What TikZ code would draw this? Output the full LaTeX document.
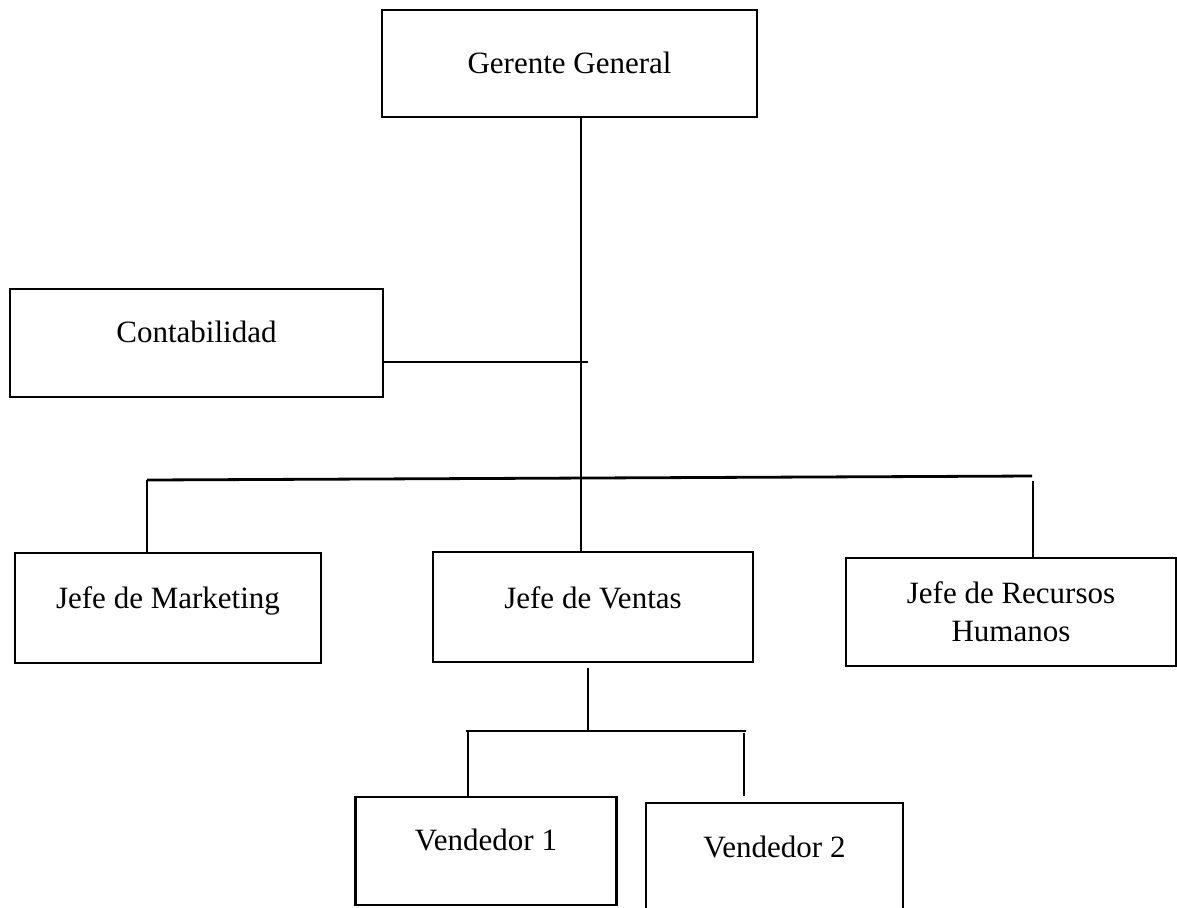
\documentclass[tikz,border=0pt]{standalone}
\usepackage{fontspec}
\setmainfont{Liberation Serif}
\tikzset{
  caja/.style={draw,line width=1.4pt,inner sep=0pt,font=\fontsize{15.5}{19}\selectfont},
  renglon/.style={text height=11pt,text depth=#1},
  renglon/.default=0.8pt,
  linea/.style={line width=1.4pt}
}
\begin{document}
\begin{tikzpicture}[x=0.5pt,y=-0.5pt]
\clip (0,0) rectangle (1177,907);
% cajas
\node[caja,renglon,minimum width=187.5pt,minimum height=53.5pt] (gerente) at (569.5,63.5) {Gerente General};
\node[caja,renglon=11.8pt,minimum width=186.5pt,minimum height=54pt] (conta) at (196.5,343) {Contabilidad};
\node[caja,renglon=10.8pt,minimum width=153pt,minimum height=55pt] (marketing) at (168,608) {Jefe de Marketing};
\node[caja,renglon=9.8pt,minimum width=160pt,minimum height=55pt] (ventas) at (593,607) {Jefe de Ventas};
\node[caja,align=center,minimum width=165pt,minimum height=54pt] (rrhh) at (1011,612) {Jefe de Recursos\\Humanos};
\node[caja,renglon=11.8pt,minimum width=130.5pt,minimum height=54pt] (vend1) at (486,851) {Vendedor 1};
\node[caja,renglon=16.8pt,minimum width=128.5pt,minimum height=60pt] (vend2) at (774.5,863) {Vendedor 2};
% puntos de las lineas
\coordinate (tronco) at (581,478);
\coordinate (nc) at (588,362);
\coordinate (bi) at (147,480);
\coordinate (bd) at (1032,476);
\coordinate (rd) at (1033,481);
\coordinate (vb) at (588,731);
\coordinate (si) at (466,731);
\coordinate (sd) at (746,731);
\coordinate (v1) at (468,731);
\coordinate (v2) at (744,733);
% lineas
\draw[linea] (gerente.south -| tronco) -- (ventas.north -| tronco);
\draw[linea] (conta.east |- nc) -- (nc);
\draw[linea] (bi) -- (bd);
\draw[linea] (bi) -- (bi |- marketing.north);
\draw[linea] (rd) -- (rd |- rrhh.north);
\draw[linea,shorten <=2.5pt] (ventas.south -| vb) -- (vb);
\draw[linea] (si) -- (sd);
\draw[linea] (v1) -- (v1 |- vend1.north);
\draw[linea,shorten >=3pt] (v2) -- (v2 |- vend2.north);
\end{tikzpicture}
\end{document}
